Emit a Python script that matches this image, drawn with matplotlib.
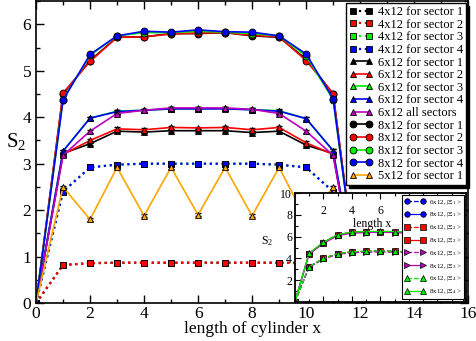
import numpy as np
import matplotlib
matplotlib.use('Agg')
import matplotlib.pyplot as plt
from matplotlib.ticker import MultipleLocator, FixedLocator, FixedFormatter

plt.rcParams['font.family'] = 'Liberation Serif'
plt.rcParams['mathtext.fontset'] = 'stix'

# ---- du lieu bieu do chinh (do dai tru x = 0..12) ----
x = np.arange(0, 13)

s4_1 = [0, 0.82, 0.86, 0.87, 0.87, 0.87, 0.87, 0.87, 0.87, 0.87, 0.86, 0.82, 0]
s4_2 = [0, 0.82, 0.86, 0.87, 0.87, 0.87, 0.87, 0.87, 0.87, 0.87, 0.86, 0.82, 0]
s4_3 = [0, 2.40, 2.92, 2.98, 3.00, 3.00, 3.00, 3.00, 3.00, 2.98, 2.92, 2.40, 0]
s4_4 = [0, 2.40, 2.92, 2.98, 3.00, 3.00, 3.00, 3.00, 3.00, 2.98, 2.92, 2.40, 0]

s6_1 = [0, 3.22, 3.43, 3.70, 3.68, 3.71, 3.71, 3.71, 3.67, 3.70, 3.40, 3.22, 0]
s6_2 = [0, 3.20, 3.50, 3.75, 3.73, 3.78, 3.77, 3.78, 3.73, 3.78, 3.45, 3.20, 0]
s6_3 = [0, 3.27, 3.98, 4.13, 4.15, 4.18, 4.18, 4.19, 4.16, 4.14, 3.97, 3.28, 0]
s6_4 = [0, 3.27, 3.98, 4.12, 4.15, 4.18, 4.18, 4.18, 4.16, 4.13, 3.97, 3.28, 0]
s6_all = [0, 3.18, 3.70, 4.08, 4.15, 4.20, 4.20, 4.20, 4.17, 4.08, 3.70, 3.18, 0]

s8_1 = [0, 4.50, 5.22, 5.72, 5.73, 5.80, 5.80, 5.82, 5.75, 5.72, 5.25, 4.50, 0]
s8_2 = [0, 4.52, 5.20, 5.72, 5.73, 5.79, 5.81, 5.82, 5.76, 5.73, 5.22, 4.51, 0]
s8_3 = [0, 4.38, 5.33, 5.75, 5.82, 5.82, 5.85, 5.83, 5.80, 5.75, 5.32, 4.38, 0]
s8_4 = [0, 4.37, 5.35, 5.75, 5.85, 5.83, 5.88, 5.84, 5.83, 5.75, 5.36, 4.40, 0]

s5_1 = [0, 2.50, 1.80, 2.92, 1.88, 2.92, 1.90, 2.92, 1.88, 2.92, 1.80, 2.49, 0]

err = 0.03  # thanh sai so nho

# ---- du lieu hinh nho ----
xi = np.arange(0, 13)
in6_x1 = [0, 3.24, 4.00, 4.45, 4.60, 4.65, 4.68, 4.65, 4.60, 4.45, 4.00, 3.24, 0]
in8_x1 = [0, 4.45, 5.46, 6.17, 6.40, 6.45, 6.47, 6.45, 6.40, 6.17, 5.46, 4.45, 0]
in6_x2 = [0, 3.24, 4.00, 4.45, 4.60, 4.65, 4.68, 4.65, 4.60, 4.45, 4.00, 3.24, 0]
in8_x2 = [0, 4.45, 5.46, 6.17, 6.40, 6.45, 6.47, 6.45, 6.40, 6.17, 5.46, 4.45, 0]
in6_x3 = [0, 3.18, 3.93, 4.38, 4.52, 4.57, 4.60, 4.57, 4.52, 4.38, 3.93, 3.18, 0]
in8_x3 = [0, 4.38, 5.38, 6.08, 6.32, 6.37, 6.40, 6.37, 6.32, 6.08, 5.38, 4.38, 0]
in6_x4 = [0, 3.24, 4.00, 4.45, 4.62, 4.66, 4.70, 4.66, 4.62, 4.45, 4.00, 3.24, 0]
in8_x4 = [0, 4.47, 5.48, 6.18, 6.42, 6.47, 6.48, 6.47, 6.42, 6.18, 5.48, 4.47, 0]
inset_xticks = [2, 4, 6, 8, 10]
inset_xticklabels = ['2', '4', '6', '', '']   # 8, 10 nam duoi chu giai

GREEN = '#00ee00'
ORANGE = '#ffa500'

fig = plt.figure(figsize=(4.77, 3.41), dpi=100)
ax = fig.add_axes([0.0755, 0.111, 0.906, 0.886])

series = [
    (s4_1, 'k', 's', ':', '4x12 for sector 1'),
    (s4_2, 'r', 's', ':', '4x12 for sector 2'),
    (s4_3, GREEN, 's', ':', '4x12 for sector 3'),
    (s4_4, 'b', 's', ':', '4x12 for sector 4'),
    (s6_1, 'k', '^', '-', '6x12 for sector 1'),
    (s6_2, 'r', '^', '-', '6x12 for sector 2'),
    (s6_3, GREEN, '^', '-', '6x12 for sector 3'),
    (s6_4, 'b', '^', '-', '6x12 for sector 4'),
    (s6_all, 'm', '^', '-', '6x12 all sectors'),
    (s8_1, 'k', 'o', '-', '8x12 for sector 1'),
    (s8_2, 'r', 'o', '-', '8x12 for sector 2'),
    (s8_3, GREEN, 'o', '-', '8x12 for sector 3'),
    (s8_4, 'b', 'o', '-', '8x12 for sector 4'),
    (s5_1, ORANGE, '^', '-', '5x12 for sector 1'),
]

for y, c, m, ls, lab in series:
    ms = 4 if m == 's' else 5
    lw = 1.6 if ls == ':' else 1.2
    ax.errorbar(x, y, yerr=err, fmt='none', ecolor='k', elinewidth=0.8, capsize=2.5)
    ax.plot(x, y, color=c, ls=ls, lw=lw, marker=m, ms=ms, mfc=c, mec='k',
            mew=0.6, label=lab)

ax.set_xlim(0, 16)
ax.set_ylim(0, 6.5)
ax.xaxis.set_major_locator(MultipleLocator(2))
ax.xaxis.set_minor_locator(MultipleLocator(1))
ax.yaxis.set_major_locator(MultipleLocator(1))
ax.yaxis.set_minor_locator(MultipleLocator(0.5))
ax.tick_params(which='both', direction='in', top=True, right=True, labelsize=12.5, width=1)
ax.tick_params(which='major', length=6)
ax.tick_params(which='minor', length=3)
ax.tick_params(axis='x', pad=2)
for sp in ax.spines.values():
    sp.set_linewidth(1.2)
ax.set_xlabel('length of cylinder x', fontsize=12.5, labelpad=-1)
ax.set_ylabel(r'$\mathregular{S_2}$', fontsize=15, rotation=0, labelpad=6)
ax.yaxis.set_label_coords(-0.045, 0.5)

leg = ax.legend(loc='upper right', bbox_to_anchor=(1.0, 1.0), borderaxespad=0.15,
                fontsize=9, numpoints=2, handlelength=1.9, handletextpad=0.4,
                labelspacing=0.05, borderpad=0.25, fancybox=False,
                shadow={'color': 'k', 'alpha': 1}, framealpha=1, edgecolor='k')
leg.get_frame().set_linewidth(1.0)

# ---- hinh nho ----
ins = fig.add_axes([0.618, 0.114, 0.359, 0.32])
inset_series = [
    (in6_x1, 'b', 'o', '--', r'6x12, $\mathregular{|\Xi_1>}$'),
    (in8_x1, 'b', 'o', '-', r'8x12, $\mathregular{|\Xi_1>}$'),
    (in6_x2, 'r', 's', '--', r'6x12, $\mathregular{|\Xi_2>}$'),
    (in8_x2, 'r', 's', '-', r'8x12, $\mathregular{|\Xi_2>}$'),
    (in6_x3, 'm', '>', '--', r'6x12, $\mathregular{|\Xi_3>}$'),
    (in8_x3, 'm', '>', '-', r'8x12, $\mathregular{|\Xi_3>}$'),
    (in6_x4, GREEN, '^', '--', r'6x12, $\mathregular{|\Xi_4>}$'),
    (in8_x4, GREEN, '^', '-', r'8x12, $\mathregular{|\Xi_4>}$'),
]
for y, c, m, ls, lab in inset_series:
    ins.plot(xi, y, color=c, ls=ls, lw=0.9, marker=m, ms=4, mfc=c, mec='k',
             mew=0.5, label=lab)

ins.set_xlim(0, 12)
ins.set_ylim(0, 10)
ins.xaxis.set_major_locator(FixedLocator(inset_xticks))
ins.xaxis.set_major_formatter(FixedFormatter(inset_xticklabels))
ins.xaxis.set_minor_locator(MultipleLocator(1))
ins.yaxis.set_major_locator(FixedLocator([2, 4, 6, 8, 10]))
ins.yaxis.set_minor_locator(MultipleLocator(1))
ins.tick_params(which='both', direction='in', top=True, right=True, width=0.8)
ins.tick_params(which='major', length=4)
ins.tick_params(which='minor', length=2)
ins.tick_params(axis='x', labeltop=True, labelbottom=False, pad=-17, labelsize=8.5)
ins.tick_params(axis='y', labelsize=8.5, pad=2)
for sp in ins.spines.values():
    sp.set_linewidth(1.3)
ins.text(0.45, 0.715, 'length x', transform=ins.transAxes, ha='center', va='center',
         fontsize=8.5)
ins.set_ylabel(r'$\mathregular{S_2}$', fontsize=8.5, rotation=0, labelpad=0)
ins.yaxis.set_label_coords(-0.16, 0.5)

ileg = ins.legend(loc='upper right', bbox_to_anchor=(1.0, 1.0), borderaxespad=0.25,
                  fontsize=5, numpoints=2, handlelength=3.0, handletextpad=0.5,
                  labelspacing=0.55, borderpad=0.4, fancybox=False, framealpha=1,
                  edgecolor='k')
ileg.get_frame().set_linewidth(0.8)

fig.savefig('out.png', dpi=100)
